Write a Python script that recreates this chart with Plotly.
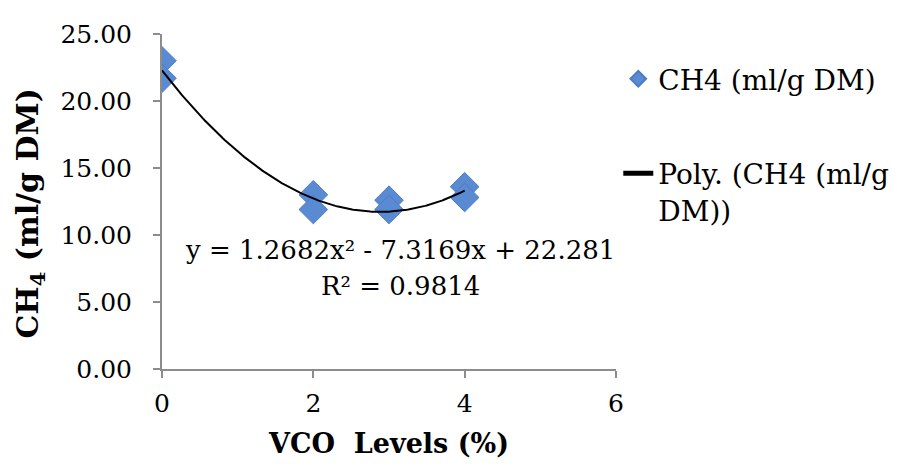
import plotly.graph_objects as go
import numpy as np

# Data
vco_levels = [0, 0, 2, 2, 3, 3, 4, 4]
ch4_values = [23.0, 21.7, 13.0, 11.9, 12.6, 11.9, 13.6, 12.8]
poly_coeffs = [1.2682, -7.3169, 22.281]  # quadratic trendline (from chart equation)
x_ticks = [0, 2, 4, 6]
y_ticks = [0, 5, 10, 15, 20, 25]
y_tick_labels = ["0.00", "5.00", "10.00", "15.00", "20.00", "25.00"]

series_name = "CH4 (ml/g DM)"
trend_name = "Poly. (CH4 (ml/g<br>DM))"
equation_line1 = "y = 1.2682x² - 7.3169x + 22.281"
equation_line2 = "R² = 0.9814"

FONT = "DejaVu Serif"

xs = np.linspace(min(vco_levels), max(vco_levels), 200)
ys = np.polyval(poly_coeffs, xs)

fig = go.Figure()
fig.add_trace(go.Scatter(
    x=vco_levels, y=ch4_values, mode="markers", name=series_name,
    marker=dict(symbol="diamond", size=22, color="#5A8AD2",
                line=dict(color="#4C7CC6", width=1)),
    legendgroup="a",
))
fig.add_trace(go.Scatter(
    x=xs, y=ys, mode="lines", name=trend_name,
    line=dict(color="black", width=2),
    legendgroup="b",
))

fig.add_annotation(
    x=3.15, y=8.88, xref="x", yref="y", text=equation_line1, showarrow=False,
    font=dict(family=FONT, size=26, color="black"), align="center",
    yanchor="middle",
)
fig.add_annotation(
    x=3.15, y=6.16, xref="x", yref="y", text=equation_line2, showarrow=False,
    font=dict(family=FONT, size=26, color="black"), align="center",
    yanchor="middle",
)

# y-axis title as annotation to match its position
fig.add_annotation(
    x=0, xref="paper", y=0.464, yref="paper", xshift=-132,
    text="<b>CH<sub>4</sub> (ml/g DM)</b>", textangle=-90, showarrow=False,
    font=dict(family=FONT, size=30, color="black"),
    xanchor="center", yanchor="middle",
)

axis_common = dict(showgrid=False, zeroline=False, showline=True,
                   linecolor="#8c8c8c", linewidth=2, ticks="outside",
                   tickcolor="#8c8c8c", tickwidth=2, ticklen=7,
                   ticklabeloverflow="allow",
                   tickfont=dict(family=FONT, size=25, color="black"))

fig.update_xaxes(range=[0, 6], tickvals=x_ticks, **axis_common,
                 ticklabelstandoff=4,
                 title=dict(text="<b>VCO  Levels (%)</b>",
                            font=dict(family=FONT, size=27, color="black"),
                            standoff=17))
fig.update_yaxes(range=[0, 25], tickvals=y_ticks, ticktext=y_tick_labels, **axis_common,
                 ticklabelstandoff=16)

fig.update_layout(
    width=907, height=462,
    margin=dict(l=154, r=299, t=12, b=101),
    paper_bgcolor="white", plot_bgcolor="white",
    showlegend=True,
    legend=dict(x=1.005, y=0.94, xanchor="left", yanchor="top",
                font=dict(family=FONT, size=28, color="black"),
                traceorder="grouped", tracegroupgap=55, valign="top",
                itemsizing="constant",
                bgcolor="rgba(0,0,0,0)"),
)

fig.write_html("out.html")
